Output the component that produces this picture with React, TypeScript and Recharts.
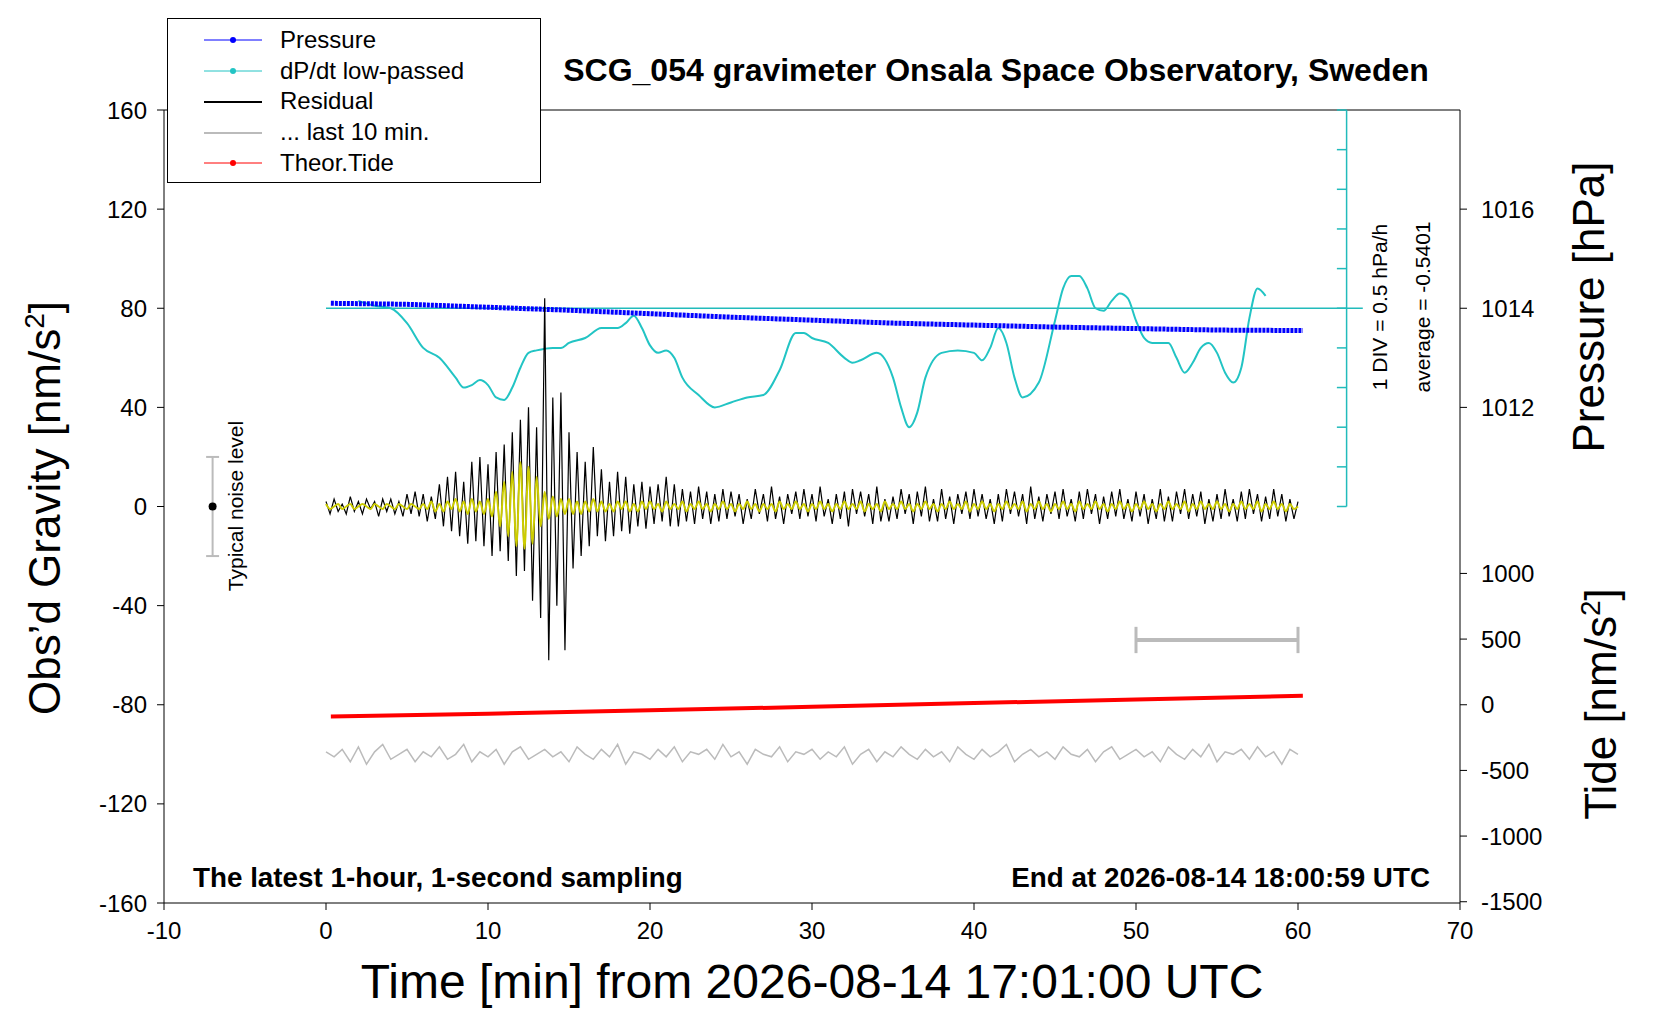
import React from "react";
import { ComposedChart, Line, XAxis, YAxis, ReferenceLine, ReferenceDot } from "recharts";

const residual = [
  2,-3,3,-2,1,-3,4,-2,2,-3,3,-1,2,-4,3,-2,3,-3,2,-4,
  5,-3,6,-4,5,-6,4,-5,9,-8,12,-10,14,-12,10,-15,18,-14,20,-16,
  17,-20,22,-18,25,-22,30,-28,35,-26,40,-38,32,-45,84,-62,44,-40,46,-58,
  30,-25,22,-20,18,-16,24,-12,15,-14,10,-12,14,-10,12,-11,9,-8,10,-9,
  8,-7,9,-6,12,-8,9,-8,7,-6,6,-7,8,-5,6,-7,5,-6,7,-5,
  6,-4,5,-7,3,-5,7,-3,5,-6,8,-5,4,-7,5,-3,6,-5,7,-4,
  5,-6,8,-4,3,-7,5,-5,6,-8,7,-3,6,-4,5,-7,8,-6,3,-6,
  4,-5,7,-3,5,-7,6,-4,8,-6,3,-6,7,-5,4,-7,5,-3,6,-5,
  7,-4,5,-5,3,-7,5,-6,7,-3,6,-4,5,-7,8,-5,4,-6,5,-3,
  6,-5,7,-4,3,-6,6,-5,7,-3,5,-7,4,-5,6,-4,7,-5,3,-6,
  6,-4,5,-7,3,-5,7,-6,4,-6,6,-3,7,-5,5,-4,6,-7,3,-6,
  5,-5,7,-4,3,-6,6,-5,7,-3,5,-6,4,-5,7,-4,5,-6,3,-5,
  2,
];
const filtered = [
  1,-1,0,1,-1,0,1,-1,0,1,0,-1,1,0,-1,1,0,-1,1,0,
  -1,1,0,-1,1,-1,2,-2,1,-2,2,-1,3,-2,2,-3,3,-2,2,-3,
  3,-4,6,-8,10,-12,14,-16,18,-17,16,-15,12,-8,6,-5,4,-4,3,-3,
  3,-3,2,-3,2,-2,3,-2,2,-2,1,-2,2,-1,2,-2,1,-2,2,-1,
  2,-1,1,-2,2,-1,1,-1,2,-2,1,-1,2,-1,1,-2,1,-1,2,-1,
  1,-2,1,-1,2,-1,1,-2,1,-1,1,-2,2,-1,1,-1,2,-1,1,-2,
  1,-1,2,-1,1,-2,1,-1,2,-1,1,-1,2,-2,1,-1,1,-2,2,-1,
  1,-1,2,-1,1,-2,1,-1,2,-1,1,-2,1,-1,2,-1,1,-1,2,-2,
  1,-1,2,-1,1,-2,1,-1,2,-1,1,-1,2,-2,1,-1,2,-1,1,-2,
  1,-1,2,-1,1,-2,2,-1,1,-1,2,-1,1,-2,1,-1,2,-1,1,-2,
  1,-1,2,-1,1,-2,1,-1,2,-1,1,-1,2,-2,1,-1,2,-1,1,-1,
  2,-1,1,-2,1,-1,2,-1,1,-1,2,-2,1,-1,2,-1,1,-2,1,-1,
  0,
];
const lastTen = [
  -99,-101,-98,-103,-97,-104,-99,-96,-102,-100,-98,-103,-99,-101,-97,-102,-100,-96,-103,-99,
  -101,-98,-104,-99,-97,-102,-100,-98,-101,-99,-103,-97,-100,-102,-98,-101,-96,-104,-99,-100,
  -102,-98,-101,-97,-103,-99,-100,-98,-102,-96,-101,-99,-104,-98,-100,-101,-97,-103,-99,-100,
  -98,-102,-99,-101,-97,-104,-100,-98,-103,-99,-101,-97,-100,-102,-98,-101,-99,-103,-97,-100,
  -102,-98,-101,-99,-96,-103,-100,-98,-101,-99,-102,-97,-100,-101,-98,-103,-99,-97,-102,-100,
  -98,-101,-99,-103,-97,-100,-102,-98,-101,-96,-103,-99,-100,-98,-102,-97,-101,-99,-104,-98,
  -100,
];
const dpdtX = [2,3,4,5,6,7,8,8.5,9,9.5,10,10.5,11,11.5,12,12.5,13,14,14.5,15,16,17,18,18.5,19,19.5,20,20.5,21,21.5,22,23,24,25,26,27,28,29,29.5,30,31,32,32.5,33,34,35,35.5,36,36.5,37,38,39,40,40.5,41,41.5,42,42.5,43,44,45,45.5,46,46.5,47,47.5,48,48.5,49,49.5,50,50.5,51,52,52.5,53,53.5,54,54.5,55,55.5,56,56.5,57,57.5,58];
const dpdtY = [83,81,80,74,64,60,52,48,49,51,49,44,43,48,56,62,63,64,64,66,68,72,72,74,77,72,65,62,63,60,52,45,40,42,44,45,55,70,70,68,66,60,58,59,62,52,40,32,38,52,62,63,62,59,64,72,66,52,44,50,75,88,93,93,88,80,79,83,86,84,75,68,66,66,60,54,58,64,66,62,54,50,56,76,88,85];
const pressX = [0.3,5,10,15,20,25,30,35,40,45,50,55,60.3];
const pressY = [1014.1,1014.08,1014.02,1013.96,1013.89,1013.82,1013.76,1013.7,1013.66,1013.62,1013.59,1013.56,1013.55];
const tideX = [0.3,10,20,30,40,50,60.3];
const tideY = [-82,-60,-35,-8,20,48,75];
const xTicks = [-10,0,10,20,30,40,50,60,70];
const leftTicks = [-160,-120,-80,-40,0,40,80,120,160];
const pressTicks = [1012,1014,1016];
const tideTicks = [-1500,-1000,-500,0,500,1000];

const g2p = (p: number) => 80 + (p - 1014) * 20;
const t2g = (t: number) => -80 + t / 18.87;
const rightTicks = [...tideTicks.map(t2g), ...pressTicks.map(g2p)];
const rightLabel = (v: number) => {
  const pi = pressTicks.findIndex((p) => Math.abs(g2p(p) - v) < 1e-3);
  if (pi >= 0) return String(pressTicks[pi]);
  const ti = tideTicks.findIndex((t) => Math.abs(t2g(t) - v) < 1e-3);
  return ti >= 0 ? String(tideTicks[ti]) : "";
};

const data: any[] = [];
residual.forEach((v, i) => data.push({ x: i * 0.25, res: v, filt: filtered[i] }));
lastTen.forEach((v, i) => data.push({ x: i * 0.5, last: v }));
dpdtX.forEach((x, i) => data.push({ x, dp: dpdtY[i] }));
pressX.forEach((x, i) => data.push({ x, pr: pressY[i] }));
tideX.forEach((x, i) => data.push({ x, td: tideY[i] }));
data.sort((a, b) => a.x - b.x);

const divTicks = [0,16,32,48,64,80,96,112,128,144,160];
const font = "'Liberation Sans', Arial, sans-serif";
const tk = { fill: "#000", fontSize: 24, fontFamily: font };

export default function App() {
  return (
    <div style={{ position: "relative", width: 1640, height: 1000, fontFamily: font }}>
      <ComposedChart width={1640} height={1000} data={data} margin={{ top: 102, right: 108, bottom: 65, left: 0 }}>
        <XAxis dataKey="x" type="number" domain={[-10, 70]} ticks={xTicks} interval={0} tick={tk} stroke="#000" tickSize={7} tickMargin={12} height={40} allowDataOverflow />
        <YAxis yAxisId="g" domain={[-160, 160]} ticks={leftTicks} interval={0} tick={tk} stroke="#000" width={156} tickSize={7} tickMargin={10} allowDataOverflow />
        <YAxis yAxisId="r" orientation="right" domain={[-160, 160]} ticks={rightTicks} interval={0} tickFormatter={rightLabel} tick={tk} stroke="#000" width={80} tickSize={7} tickMargin={14} allowDataOverflow />
        <YAxis yAxisId="p" hide domain={[1002, 1018]} />
        <YAxis yAxisId="t" hide domain={[-1500, 4530]} />
        <ReferenceLine yAxisId="g" y={160} stroke="#000" />
        <ReferenceLine yAxisId="g" segment={[{ x: 0, y: 80 }, { x: 64, y: 80 }]} stroke="#22bbbb" strokeWidth={1.5} />
        <ReferenceLine yAxisId="g" segment={[{ x: 63, y: 0 }, { x: 63, y: 160 }]} stroke="#22bbbb" strokeWidth={1.5} />
        {divTicks.map((y) => (
          <ReferenceLine key={y} yAxisId="g" segment={[{ x: 62.4, y }, { x: 63, y }]} stroke="#22bbbb" strokeWidth={1.5} />
        ))}
        <ReferenceLine yAxisId="g" segment={[{ x: -7, y: -20 }, { x: -7, y: 20 }]} stroke="#bbb" strokeWidth={2} />
        <ReferenceLine yAxisId="g" segment={[{ x: -7.4, y: 20 }, { x: -6.6, y: 20 }]} stroke="#bbb" strokeWidth={2} />
        <ReferenceLine yAxisId="g" segment={[{ x: -7.4, y: -20 }, { x: -6.6, y: -20 }]} stroke="#bbb" strokeWidth={2} />
        <ReferenceDot yAxisId="g" x={-7} y={0} r={4} fill="#000" stroke="none" />
        <ReferenceLine yAxisId="t" segment={[{ x: 50, y: 500 }, { x: 60, y: 500 }]} stroke="#bbb" strokeWidth={4} />
        <ReferenceLine yAxisId="t" segment={[{ x: 50, y: 400 }, { x: 50, y: 600 }]} stroke="#bbb" strokeWidth={3} />
        <ReferenceLine yAxisId="t" segment={[{ x: 60, y: 400 }, { x: 60, y: 600 }]} stroke="#bbb" strokeWidth={3} />
        <Line yAxisId="r" dataKey="res" stroke="none" dot={false} connectNulls isAnimationActive={false} />
        <Line yAxisId="g" dataKey="last" stroke="#bbb" strokeWidth={1.5} dot={false} connectNulls isAnimationActive={false} />
        <Line yAxisId="g" dataKey="dp" stroke="#22c4c4" strokeWidth={2} dot={false} connectNulls type="monotone" isAnimationActive={false} />
        <Line yAxisId="p" dataKey="pr" stroke="#0000ff" strokeWidth={5} strokeDasharray="3 1" dot={false} connectNulls isAnimationActive={false} />
        <Line yAxisId="g" dataKey="res" stroke="#000" strokeWidth={1.2} dot={false} connectNulls isAnimationActive={false} />
        <Line yAxisId="g" dataKey="filt" stroke="#cccc00" strokeWidth={2} dot={false} connectNulls type="monotone" isAnimationActive={false} />
        <Line yAxisId="t" dataKey="td" stroke="#ff0000" strokeWidth={4} dot={false} connectNulls isAnimationActive={false} />
      </ComposedChart>

      <div style={{ position: "absolute", left: 159, top: 10, width: 372, height: 163, border: "1px solid #000", background: "#fff" }}>
        <svg width={372} height={163} style={{ position: "absolute", left: 0, top: 0 }}>
          <line x1={36} x2={94} y1={21} y2={21} stroke="#0000ff" />
          <circle cx={65} cy={21} r={3} fill="#0000ff" />
          <line x1={36} x2={94} y1={52} y2={52} stroke="#22c4c4" />
          <circle cx={65} cy={52} r={3} fill="#22c4c4" />
          <line x1={36} x2={94} y1={83} y2={83} stroke="#000" strokeWidth={2} />
          <line x1={36} x2={94} y1={114} y2={114} stroke="#bbb" strokeWidth={2} />
          <line x1={36} x2={94} y1={144} y2={144} stroke="#ff0000" />
          <circle cx={65} cy={144} r={3} fill="#ff0000" />
          {["Pressure", "dP/dt low-passed", "Residual", "... last 10 min.", "Theor.Tide"].map((t, i) => (
            <text key={t} x={112} y={29 + i * 30.7} fontSize={24} fontFamily={font}>{t}</text>
          ))}
        </svg>
      </div>
      <div style={{ position: "absolute", left: 448, top: 44, width: 1080, textAlign: "center", fontSize: 32, fontWeight: "bold" }}>
        SCG_054 gravimeter Onsala Space Observatory, Sweden
      </div>
      <div style={{ position: "absolute", left: 185, top: 854, fontSize: 27.8, fontWeight: "bold" }}>The latest 1-hour, 1-second sampling</div>
      <div style={{ position: "absolute", right: 218, top: 854, fontSize: 27.8, fontWeight: "bold", whiteSpace: "nowrap" }}>End at 2026-08-14 18:00:59 UTC</div>
      <div style={{ position: "absolute", left: 404, top: 950, width: 800, textAlign: "center", fontSize: 48, lineHeight: 1, whiteSpace: "nowrap", display: "flex", justifyContent: "center" }}>Time [min] from 2026-08-14 17:01:00 UTC</div>

      {[
        { x: 36, y: 500, t: <>Obs’d Gravity [nm/s<sup style={{ fontSize: 28 }}>2</sup>]</>, s: 44 },
        { x: 1581, y: 299, t: <>Pressure [hPa]</>, s: 44 },
        { x: 1592, y: 696, t: <>Tide [nm/s<sup style={{ fontSize: 28 }}>2</sup>]</>, s: 44 },
        { x: 227, y: 498, t: <>Typical noise level</>, s: 21 },
        { x: 1371, y: 299, t: <>1 DIV = 0.5 hPa/h</>, s: 21 },
        { x: 1414, y: 299, t: <>average = -0.5401</>, s: 21 },
      ].map((l, i) => (
        <div key={i} style={{ position: "absolute", left: l.x, top: l.y, transform: "translate(-50%,-50%) rotate(-90deg)", fontSize: l.s, whiteSpace: "nowrap", lineHeight: 1 }}>
          {l.t}
        </div>
      ))}
    </div>
  );
}
